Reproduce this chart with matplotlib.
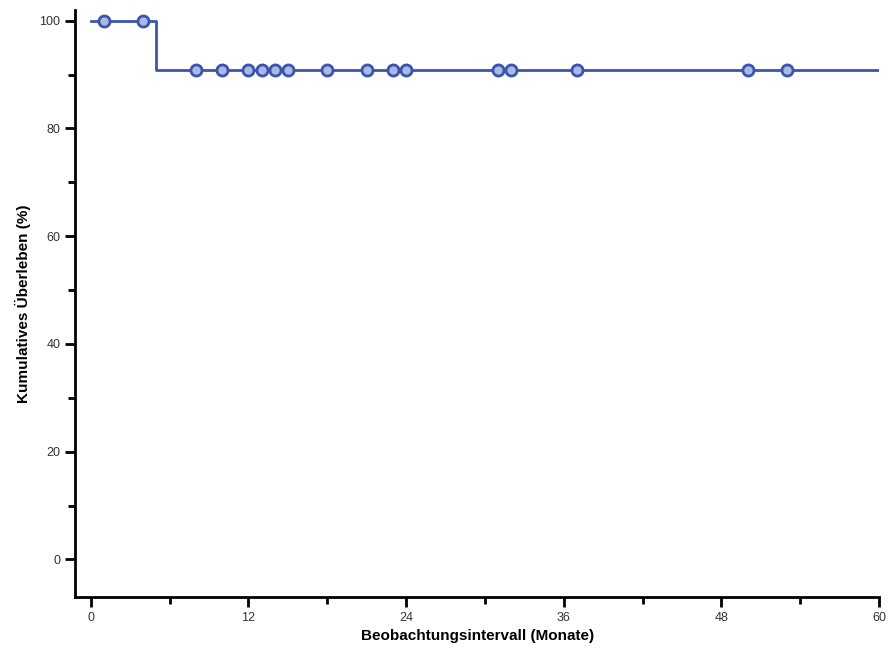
import matplotlib
matplotlib.use("Agg")
import matplotlib.pyplot as plt

plt.rcParams['font.family'] = ['Liberation Sans', 'DejaVu Sans']

# Kaplan-Meier step curve
step_times = [0, 5, 60]
step_surv = [100, 90.9, 90.9]

# censored observations (months) and survival level at that time
censor_times = [1, 4, 8, 10, 12, 13, 14, 15, 18, 21, 23, 24, 31, 32, 37, 50, 53]
censor_surv = [100, 100, 90.9, 90.9, 90.9, 90.9, 90.9, 90.9, 90.9, 90.9,
               90.9, 90.9, 90.9, 90.9, 90.9, 90.9, 90.9]

x_ticks = [0, 12, 24, 36, 48, 60]
y_ticks = [0, 20, 40, 60, 80, 100]

blue = "#3b55ad"

fig = plt.figure(figsize=(8.88, 6.57), dpi=100)
ax = fig.add_axes([0.0845, 0.091, 0.9055, 0.894])

ax.step(step_times, step_surv, where="post", color=blue, lw=2)
ax.plot(censor_times, censor_surv, ls="none", marker="o", ms=8,
        mfc="#aab8e6", mec=blue, mew=2)

ax.set_xlim(-1.2, 60)
ax.set_ylim(-7, 102)
ax.set_xticks(x_ticks)
ax.set_xticks([6, 18, 30, 42, 54], minor=True)
ax.set_yticks(y_ticks)
ax.set_yticks([10, 30, 50, 70, 90], minor=True)

for s in ["top", "right"]:
    ax.spines[s].set_visible(False)
for s in ["left", "bottom"]:
    ax.spines[s].set_linewidth(2)

ax.tick_params(which="both", direction="out", width=2, color="black")
ax.tick_params(which="major", length=7, labelsize=9, labelcolor="#333333")
ax.tick_params(which="minor", length=5)

ax.set_xlabel("Beobachtungsintervall (Monate)", fontsize=11, fontweight="bold", labelpad=4)
ax.set_ylabel("Kumulatives Überleben (%)", fontsize=11, fontweight="bold", labelpad=6)

fig.savefig("out.png", dpi=100)
